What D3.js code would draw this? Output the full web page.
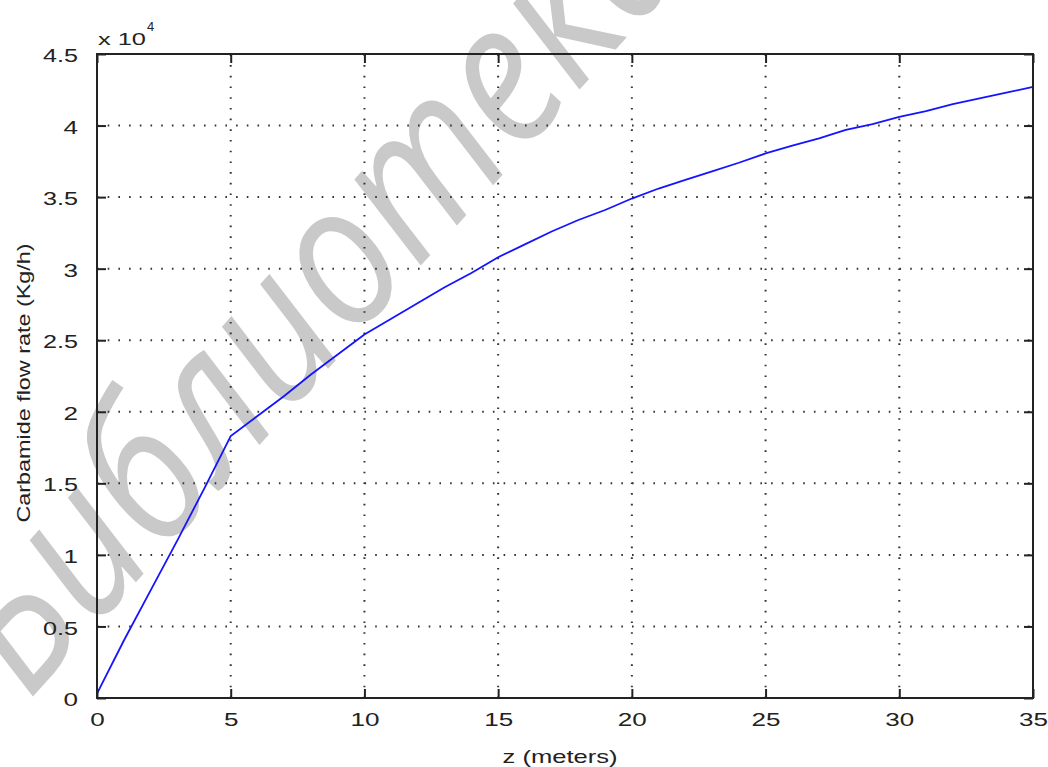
<!DOCTYPE html>
<html>
<head>
<meta charset="utf-8">
<script src="https://cdn.jsdelivr.net/npm/d3@7"></script>
<style>
  body { margin: 0; background: #fff; }
  svg text { font-family: "Liberation Sans", Arial, sans-serif; }
</style>
</head>
<body>
<div id="container"></div>
<script>
let w = 1048;
let h = 767;
let margin = {left: 97, right: 15, top: 54, bottom: 69};

// DATA (flow rate in units of 1e4 kg/h)
let zValues = [0, 1, 2, 3, 4, 5, 6, 7, 8, 9, 10, 11, 12, 13, 14, 15, 16, 17, 18, 19, 20,
               21, 22, 23, 24, 25, 26, 27, 28, 29, 30, 31, 32, 33, 34, 35];
let flowValues = [0.03, 0.40, 0.75, 1.10, 1.46, 1.83, 1.97, 2.11, 2.26, 2.40, 2.54,
                  2.65, 2.76, 2.87, 2.97, 3.08, 3.17, 3.26, 3.34, 3.41, 3.49,
                  3.56, 3.62, 3.68, 3.74, 3.805, 3.86, 3.91, 3.97, 4.01, 4.06,
                  4.10, 4.15, 4.19, 4.23, 4.27];
let xTicks = [0, 5, 10, 15, 20, 25, 30, 35];
let yTicks = [0, 0.5, 1, 1.5, 2, 2.5, 3, 3.5, 4, 4.5];

let viz = d3.select("#container").append("svg")
    .attr("width", w)
    .attr("height", h)
    .style("background-color", "white");

// watermark
viz.append("text")
    .attr("transform", "translate(28,702) rotate(-48)")
    .attr("font-size", 200)
    .attr("font-style", "italic")
    .attr("textLength", 1000)
    .attr("lengthAdjust", "spacingAndGlyphs")
    .style("font-family", "'Open Sans', 'Liberation Sans', sans-serif")
    .attr("fill", "#c9c9c9")
    .text("Библиотека");

let xScale = d3.scaleLinear().domain([0, 35]).range([margin.left, w - margin.right]);
let yScale = d3.scaleLinear().domain([0, 4.5]).range([h - margin.bottom, margin.top]);

let x0 = xScale(0), x1 = xScale(35), y0 = yScale(0), y1 = yScale(4.5);

// GRID
let grid = viz.append("g").attr("stroke", "#333").attr("stroke-width", 2)
    .attr("stroke-dasharray", "1.6,9.1");
grid.selectAll(".vgrid").data(xTicks.slice(1, -1)).enter()
  .append("line")
    .attr("x1", d => xScale(d)).attr("x2", d => xScale(d))
    .attr("y1", y0).attr("y2", y1);
grid.selectAll(".hgrid").data(yTicks.slice(1, -1)).enter()
  .append("line")
    .attr("x1", x0).attr("x2", x1)
    .attr("y1", d => yScale(d)).attr("y2", d => yScale(d));

// LINE
let lineMaker = d3.line()
    .x((d, i) => xScale(zValues[i]))
    .y(d => yScale(d));
viz.append("path")
    .datum(flowValues)
    .attr("d", lineMaker)
    .attr("fill", "none")
    .attr("stroke", "#1414ff")
    .attr("stroke-width", 1.8);

// AXES (box with inward ticks on all sides)
let tickLen = 9;
let axisColor = "#222";
let fmt = d => String(d);
viz.append("g").attr("class", "xaxis").attr("transform", `translate(0,${y0})`)
    .call(d3.axisBottom(xScale).tickValues(xTicks).tickFormat(fmt).tickSizeInner(-tickLen).tickSizeOuter(0).tickPadding(15))
    .call(g => g.select(".domain").remove());
viz.append("g").attr("transform", `translate(0,${y1})`)
    .call(d3.axisTop(xScale).tickValues(xTicks).tickSizeInner(-tickLen).tickSizeOuter(0).tickFormat(""))
    .call(g => g.select(".domain").remove());
viz.append("g").attr("class", "yaxis").attr("transform", `translate(${x0},0)`)
    .call(d3.axisLeft(yScale).tickValues(yTicks).tickFormat(fmt).tickSizeInner(-tickLen).tickSizeOuter(0).tickPadding(19))
    .call(g => g.select(".domain").remove());
viz.append("g").attr("transform", `translate(${x1},0)`)
    .call(d3.axisRight(yScale).tickValues(yTicks).tickSizeInner(-tickLen).tickSizeOuter(0).tickFormat(""))
    .call(g => g.select(".domain").remove());

viz.selectAll(".tick line").attr("stroke", axisColor).attr("stroke-width", 2);
// the reference font is wide: stretch each label to its measured width
viz.selectAll(".xaxis .tick text, .yaxis .tick text")
    .attr("font-size", 18)
    .attr("fill", "#222")
    .attr("lengthAdjust", "spacingAndGlyphs")
    .attr("textLength", function() {
      let s = this.textContent;
      return s.replace(".", "").length * 14.5 + (s.includes(".") ? 6 : 0);
    })
    .style("font-family", "'Liberation Sans', Arial, sans-serif");
viz.selectAll(".yaxis .tick text").attr("dy", "0.42em");

viz.append("rect")
    .attr("x", x0).attr("y", y1)
    .attr("width", x1 - x0).attr("height", y0 - y1)
    .attr("fill", "none")
    .attr("stroke", axisColor)
    .attr("stroke-width", 2);

// LABELS
viz.append("text")
    .attr("x", x0 + 1)
    .attr("y", 45)
    .attr("font-size", 17)
    .attr("fill", "#222")
    .attr("textLength", 48)
    .attr("lengthAdjust", "spacingAndGlyphs")
    .text("x 10");
viz.append("text")
    .attr("x", x0 + 50)
    .attr("y", 31)
    .attr("font-size", 13)
    .attr("fill", "#222")
    .text("4");

viz.append("text")
    .attr("transform", `translate(30,383) rotate(-90)`)
    .attr("text-anchor", "middle")
    .attr("font-size", 18)
    .attr("fill", "#222")
    .attr("textLength", 279)
    .attr("lengthAdjust", "spacingAndGlyphs")
    .text("Carbamide flow rate (Kg/h)");

viz.append("text")
    .attr("x", 560)
    .attr("y", 763)
    .attr("text-anchor", "middle")
    .attr("font-size", 19)
    .attr("fill", "#222")
    .attr("textLength", 115)
    .attr("lengthAdjust", "spacingAndGlyphs")
    .text("z (meters)");
</script>
</body>
</html>
